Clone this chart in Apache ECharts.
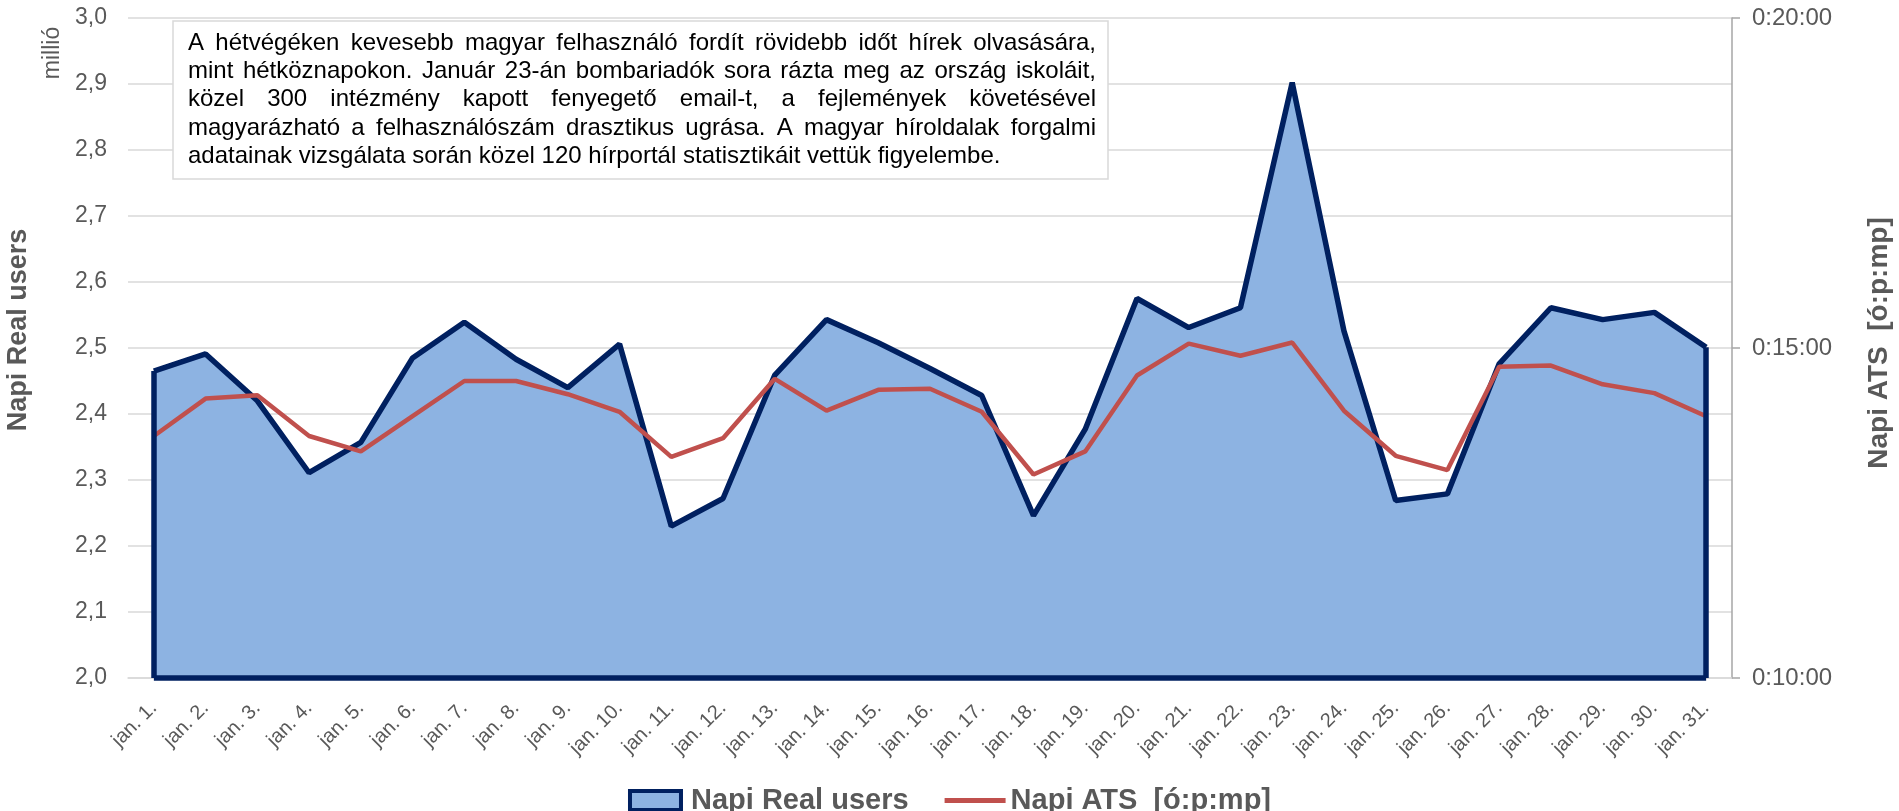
<!DOCTYPE html>
<html>
<head>
<meta charset="utf-8">
<script src="https://cdn.jsdelivr.net/npm/echarts@6/dist/echarts.min.js"></script>
<style>
  html, body { margin: 0; padding: 0; background: #fff; }
  #chart { width: 1899px; height: 811px; }
</style>
</head>
<body>
<div id="chart"></div>
<script>
// napok
var days = [];
for (var d = 1; d <= 31; d++) days.push("jan. " + d + ".");

// Napi Real users (millió)
var realUsers = [2.465, 2.491, 2.42, 2.311, 2.357, 2.485, 2.539, 2.483, 2.44, 2.506,
  2.23, 2.272, 2.459, 2.543, 2.508, 2.469, 2.428, 2.246, 2.377, 2.575,
  2.531, 2.561, 2.902, 2.526, 2.269, 2.279, 2.476, 2.561, 2.543, 2.554, 2.501];

// Napi ATS, másodpercben
var atsSec = [820, 854, 857, 820, 806, 838, 870, 870, 858, 842,
  801, 818, 872, 843, 862, 863, 842, 785, 806, 875,
  904, 893, 905, 843, 802, 789, 883, 884, 867, 859, 838];

var noteLines = [
  "A hétvégéken kevesebb magyar felhasználó fordít rövidebb időt hírek olvasására,",
  "mint hétköznapokon. Január 23-án bombariadók sora rázta meg az ország iskoláit,",
  "közel 300 intézmény kapott fenyegető email-t, a fejlemények követésével",
  "magyarázható a felhasználószám drasztikus ugrása. A magyar híroldalak forgalmi",
  "adatainak vizsgálata során közel 120 hírportál statisztikáit vettük figyelembe."
];

var FONT = '"Liberation Sans", Arial, sans-serif';
var NAVY = "#002060";
var FILL = "#8db3e2";
var RED = "#c0504d";
var GREY = "#595959";

function fmtTime(s) {
  var h = Math.floor(s / 3600);
  var m = Math.floor((s % 3600) / 60);
  var sec = s % 60;
  return h + ":" + String(m).padStart(2, "0") + ":" + String(sec).padStart(2, "0");
}

// sorkizárt szöveg a dobozban
function noteGraphics() {
  var font = "24px " + FONT;
  var ctx = document.createElement("canvas").getContext("2d");
  ctx.font = font;
  var left = 188, width = 908;
  var els = [{
    type: "rect",
    shape: { x: 173, y: 21, width: 935, height: 158 },
    style: { fill: "#fff", stroke: "#d9d9d9", lineWidth: 1.5 },
    z: 100
  }];
  noteLines.forEach(function (line, i) {
    var y = 43 + i * 28.4;
    if (i === noteLines.length - 1) {
      els.push({ type: "text", x: left, y: y, z: 101,
        style: { text: line, font: font, fill: "#000", verticalAlign: "middle" } });
      return;
    }
    var words = line.split(" ");
    var ws = words.map(function (w) { return ctx.measureText(w).width; });
    var total = ws.reduce(function (a, b) { return a + b; }, 0);
    var gap = (width - total) / (words.length - 1);
    var x = left;
    words.forEach(function (w, j) {
      els.push({ type: "text", x: x, y: y, z: 101,
        style: { text: w, font: font, fill: "#000", verticalAlign: "middle" } });
      x += ws[j] + gap;
    });
  });
  els.push({
    type: "text", x: 53, y: 53, rotation: Math.PI / 2, z: 101,
    style: { text: "millió", fontSize: 23, fontFamily: FONT, fill: GREY, align: "center", verticalAlign: "middle" }
  });
  return els;
}

var chart = echarts.init(document.getElementById("chart"));
var last = days[days.length - 1];
var option = {
  animation: false,
  textStyle: { fontFamily: FONT },
  grid: { left: 128, right: 167, top: 18, bottom: 133, outerBoundsMode: "none", containLabel: false },
  legend: {
    left: "center",
    top: 781,
    itemWidth: 61,
    itemHeight: 19,
    itemGap: 36,
    textStyle: { fontSize: 29, fontWeight: "bold", color: GREY, fontFamily: FONT },
    data: [
      { name: "Napi Real users", icon: "path://M0,0H51V19H0Z",
        itemStyle: { color: FILL, borderColor: NAVY, borderWidth: 4 } },
      { name: "Napi ATS  [ó:p:mp]", icon: "path://M0,0H61V5H0Z",
        itemStyle: { color: RED } }
    ]
  },
  xAxis: {
    type: "category",
    data: days,
    axisTick: { show: false },
    axisLine: { lineStyle: { color: "#d9d9d9", width: 1.5 } },
    axisLabel: { rotate: 45, interval: 0, fontSize: 20, color: GREY, margin: 27 }
  },
  yAxis: [
    {
      type: "value",
      min: 2, max: 3, interval: 0.1,
      name: "Napi Real users",
      nameLocation: "middle",
      nameRotate: 90,
      nameGap: 96,
      nameTextStyle: { fontSize: 27, fontWeight: "bold", color: GREY, padding: [0, 0, 0, 36] },
      axisLine: { show: false },
      axisTick: { show: false },
      axisLabel: { fontSize: 23, color: GREY, margin: 21,
        formatter: function (v) { return v.toFixed(1).replace(".", ","); } },
      splitLine: { lineStyle: { color: "#d9d9d9", width: 1.5 } }
    },
    {
      type: "value",
      min: 600, max: 1200, interval: 300,
      position: "right",
      name: "Napi ATS  [ó:p:mp]",
      nameLocation: "middle",
      nameRotate: 90,
      nameGap: 133,
      nameTextStyle: { fontSize: 28, fontWeight: "bold", color: GREY, padding: [0, 0, 0, 10] },
      axisLine: { show: true, lineStyle: { color: "#a6a6a6", width: 1.5 } },
      axisTick: { show: true, length: 8, lineStyle: { color: "#a6a6a6", width: 1.5 } },
      axisLabel: { fontSize: 24, color: GREY, margin: 20, formatter: fmtTime },
      splitLine: { show: false }
    }
  ],
  series: [
    {
      name: "Napi Real users",
      type: "line",
      data: realUsers,
      symbol: "none",
      lineStyle: { color: NAVY, width: 5.5 },
      itemStyle: { color: FILL, borderColor: NAVY },
      areaStyle: { color: FILL, opacity: 1, origin: "start" },
      markLine: {
        silent: true,
        symbol: "none",
        label: { show: false },
        lineStyle: { color: NAVY, width: 5.5, type: "solid" },
        data: [
          [{ coord: [days[0], 2] }, { coord: [days[0], realUsers[0]] }],
          [{ coord: [last, 2] }, { coord: [last, realUsers[realUsers.length - 1]] }],
          [{ coord: [days[0], 2] }, { coord: [last, 2] }]
        ]
      },
      z: 2
    },
    {
      name: "Napi ATS  [ó:p:mp]",
      type: "line",
      yAxisIndex: 1,
      data: atsSec,
      symbol: "none",
      lineStyle: { color: RED, width: 4.5 },
      itemStyle: { color: RED },
      z: 3
    }
  ],
  graphic: noteGraphics()
};
chart.setOption(option);
</script>
</body>
</html>
